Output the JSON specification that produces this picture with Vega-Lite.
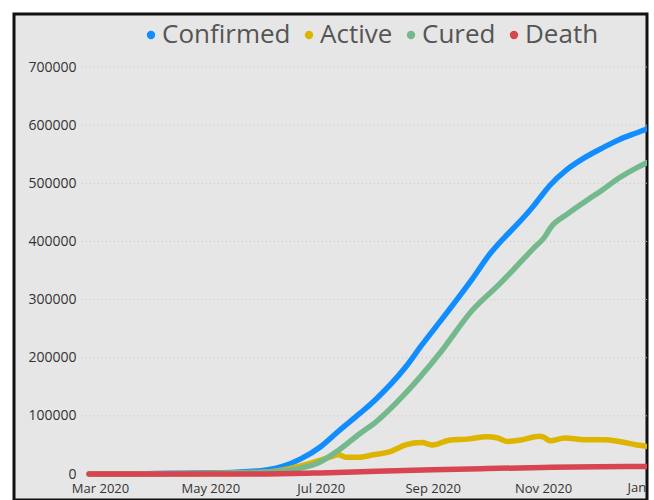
{
  "$schema": "https://vega.github.io/schema/vega-lite/v6.json",
  "width": 633,
  "height": 486,
  "autosize": {"type": "none"},
  "padding": {"left": 14, "top": 14, "right": 7, "bottom": 0},
  "background": "white",
  "config": {
    "view": {"fill": "#e6e6e6", "stroke": "#111111", "strokeWidth": 3},
    "font": "Open Sans"
  },
  "layer": [
    {
      "data": {"values": [{"g": 100000}, {"g": 200000}, {"g": 300000}, {"g": 400000}, {"g": 500000}, {"g": 600000}, {"g": 700000}]},
      "mark": {"type": "rule", "stroke": "#c4c4c4", "strokeDash": [1, 3], "strokeWidth": 1, "clip": true},
      "encoding": {
        "y": {
          "field": "g", "type": "quantitative",
          "scale": {"domain": [-44717, 791155], "nice": false, "zero": false},
          "axis": {
            "orient": "left", "offset": -64, "labelPadding": 2, "ticks": false, "domain": false, "grid": false,
            "values": [0, 100000, 200000, 300000, 400000, 500000, 600000, 700000],
            "format": "d", "labelFontSize": 14, "labelColor": "#333333", "labelFont": "Open Sans", "title": null
          }
        },
        "x": {"datum": {"year": 2020, "month": 2, "date": 20, "utc": true}, "type": "temporal"},
        "x2": {"datum": {"year": 2021, "month": 1, "date": 20, "utc": true}}
      }
    },
    {
      "data": {"values": [
        {"date": "2020-02-24", "series": "Confirmed", "value": 1},
        {"date": "2020-03-15", "series": "Confirmed", "value": 120},
        {"date": "2020-04-01", "series": "Confirmed", "value": 700},
        {"date": "2020-04-15", "series": "Confirmed", "value": 1400},
        {"date": "2020-05-01", "series": "Confirmed", "value": 2100},
        {"date": "2020-05-15", "series": "Confirmed", "value": 3200},
        {"date": "2020-06-01", "series": "Confirmed", "value": 7000},
        {"date": "2020-06-10", "series": "Confirmed", "value": 13000},
        {"date": "2020-06-20", "series": "Confirmed", "value": 26000},
        {"date": "2020-07-01", "series": "Confirmed", "value": 47000},
        {"date": "2020-07-11", "series": "Confirmed", "value": 74000},
        {"date": "2020-07-23", "series": "Confirmed", "value": 105000},
        {"date": "2020-07-31", "series": "Confirmed", "value": 127000},
        {"date": "2020-08-17", "series": "Confirmed", "value": 184000},
        {"date": "2020-08-26", "series": "Confirmed", "value": 222000},
        {"date": "2020-09-05", "series": "Confirmed", "value": 262000},
        {"date": "2020-09-23", "series": "Confirmed", "value": 336000},
        {"date": "2020-10-03", "series": "Confirmed", "value": 380000},
        {"date": "2020-10-08", "series": "Confirmed", "value": 398000},
        {"date": "2020-10-12", "series": "Confirmed", "value": 411000},
        {"date": "2020-10-17", "series": "Confirmed", "value": 427000},
        {"date": "2020-10-27", "series": "Confirmed", "value": 462000},
        {"date": "2020-10-30", "series": "Confirmed", "value": 474000},
        {"date": "2020-11-05", "series": "Confirmed", "value": 497000},
        {"date": "2020-11-14", "series": "Confirmed", "value": 523000},
        {"date": "2020-11-24", "series": "Confirmed", "value": 544000},
        {"date": "2020-12-04", "series": "Confirmed", "value": 561000},
        {"date": "2020-12-13", "series": "Confirmed", "value": 575000},
        {"date": "2020-12-23", "series": "Confirmed", "value": 587000},
        {"date": "2020-12-29", "series": "Confirmed", "value": 594000},
        {"date": "2021-01-02", "series": "Confirmed", "value": 598000},
        {"date": "2020-02-24", "series": "Active", "value": 1},
        {"date": "2020-03-15", "series": "Active", "value": 90},
        {"date": "2020-04-01", "series": "Active", "value": 500},
        {"date": "2020-04-15", "series": "Active", "value": 600},
        {"date": "2020-05-01", "series": "Active", "value": 700},
        {"date": "2020-05-15", "series": "Active", "value": 1000},
        {"date": "2020-06-01", "series": "Active", "value": 3000},
        {"date": "2020-06-10", "series": "Active", "value": 7000},
        {"date": "2020-06-20", "series": "Active", "value": 14000},
        {"date": "2020-07-01", "series": "Active", "value": 24000},
        {"date": "2020-07-06", "series": "Active", "value": 29000},
        {"date": "2020-07-11", "series": "Active", "value": 33000},
        {"date": "2020-07-15", "series": "Active", "value": 29000},
        {"date": "2020-07-23", "series": "Active", "value": 29000},
        {"date": "2020-07-30", "series": "Active", "value": 33000},
        {"date": "2020-08-08", "series": "Active", "value": 38000},
        {"date": "2020-08-17", "series": "Active", "value": 50000},
        {"date": "2020-08-26", "series": "Active", "value": 54000},
        {"date": "2020-09-01", "series": "Active", "value": 50000},
        {"date": "2020-09-10", "series": "Active", "value": 58000},
        {"date": "2020-09-20", "series": "Active", "value": 60000},
        {"date": "2020-10-01", "series": "Active", "value": 64000},
        {"date": "2020-10-07", "series": "Active", "value": 62000},
        {"date": "2020-10-12", "series": "Active", "value": 56000},
        {"date": "2020-10-19", "series": "Active", "value": 58000},
        {"date": "2020-10-30", "series": "Active", "value": 65000},
        {"date": "2020-11-01", "series": "Active", "value": 64000},
        {"date": "2020-11-05", "series": "Active", "value": 57000},
        {"date": "2020-11-13", "series": "Active", "value": 62000},
        {"date": "2020-11-24", "series": "Active", "value": 59000},
        {"date": "2020-12-05", "series": "Active", "value": 59000},
        {"date": "2020-12-13", "series": "Active", "value": 56000},
        {"date": "2020-12-23", "series": "Active", "value": 50000},
        {"date": "2020-12-29", "series": "Active", "value": 47000},
        {"date": "2021-01-02", "series": "Active", "value": 44000},
        {"date": "2020-02-24", "series": "Cured", "value": 0},
        {"date": "2020-03-15", "series": "Cured", "value": 25},
        {"date": "2020-04-01", "series": "Cured", "value": 170},
        {"date": "2020-04-15", "series": "Cured", "value": 750},
        {"date": "2020-05-01", "series": "Cured", "value": 1400},
        {"date": "2020-05-15", "series": "Cured", "value": 2100},
        {"date": "2020-06-01", "series": "Cured", "value": 3600},
        {"date": "2020-06-10", "series": "Cured", "value": 5500},
        {"date": "2020-06-20", "series": "Cured", "value": 10000},
        {"date": "2020-07-01", "series": "Cured", "value": 21000},
        {"date": "2020-07-11", "series": "Cured", "value": 41000},
        {"date": "2020-07-23", "series": "Cured", "value": 70000},
        {"date": "2020-07-31", "series": "Cured", "value": 88000},
        {"date": "2020-08-17", "series": "Cured", "value": 139000},
        {"date": "2020-09-05", "series": "Cured", "value": 208000},
        {"date": "2020-09-23", "series": "Cured", "value": 282000},
        {"date": "2020-10-08", "series": "Cured", "value": 327000},
        {"date": "2020-10-17", "series": "Cured", "value": 356000},
        {"date": "2020-10-27", "series": "Cured", "value": 389000},
        {"date": "2020-11-02", "series": "Cured", "value": 408000},
        {"date": "2020-11-05", "series": "Cured", "value": 423000},
        {"date": "2020-11-14", "series": "Cured", "value": 446000},
        {"date": "2020-11-24", "series": "Cured", "value": 468000},
        {"date": "2020-12-04", "series": "Cured", "value": 489000},
        {"date": "2020-12-13", "series": "Cured", "value": 509000},
        {"date": "2020-12-23", "series": "Cured", "value": 527000},
        {"date": "2020-12-29", "series": "Cured", "value": 536000},
        {"date": "2021-01-02", "series": "Cured", "value": 541000},
        {"date": "2020-02-24", "series": "Death", "value": 0},
        {"date": "2020-04-01", "series": "Death", "value": 50},
        {"date": "2020-05-01", "series": "Death", "value": 100},
        {"date": "2020-06-01", "series": "Death", "value": 215},
        {"date": "2020-07-01", "series": "Death", "value": 1900},
        {"date": "2020-08-01", "series": "Death", "value": 4800},
        {"date": "2020-09-01", "series": "Death", "value": 7300},
        {"date": "2020-10-01", "series": "Death", "value": 9400},
        {"date": "2020-11-01", "series": "Death", "value": 11200},
        {"date": "2020-12-01", "series": "Death", "value": 12400},
        {"date": "2020-12-29", "series": "Death", "value": 13000},
        {"date": "2021-01-02", "series": "Death", "value": 13100}
      ]},
      "mark": {"type": "line", "strokeWidth": 5.5, "interpolate": "monotone", "clip": true, "strokeCap": "round"},
      "encoding": {
        "x": {
          "field": "date", "type": "temporal",
          "scale": {"type": "utc", "domain": [{"year": 2020, "month": 1, "date": 13, "hours": 10, "utc": true}, {"year": 2020, "month": 12, "date": 28, "hours": 12, "utc": true}]},
          "axis": {
            "orient": "bottom", "offset": -12, "labelPadding": 0, "ticks": false, "domain": false, "grid": false,
            "values": [
              {"year": 2020, "month": 3, "date": 1, "utc": true},
              {"year": 2020, "month": 5, "date": 1, "utc": true},
              {"year": 2020, "month": 7, "date": 1, "utc": true},
              {"year": 2020, "month": 9, "date": 1, "utc": true},
              {"year": 2020, "month": 11, "date": 1, "utc": true}
            ],
            "format": "%b %Y", "labelFontSize": 13, "labelBaseline": "middle", "labelColor": "#333333",
            "labelFont": "Open Sans", "title": null, "labelFlush": false, "labelOverlap": false
          }
        },
        "y": {"field": "value", "type": "quantitative"},
        "color": {
          "field": "series", "type": "nominal",
          "scale": {"domain": ["Confirmed", "Active", "Cured", "Death"], "range": ["#118DFF", "#DDB400", "#73B98B", "#D64550"]},
          "legend": {
            "orient": "none", "legendX": 124, "legendY": 8, "direction": "horizontal", "title": null,
            "symbolType": "circle", "symbolSize": 70, "symbolStrokeWidth": 0,
            "labelFontSize": 26, "labelColor": "#555555", "labelFont": "Open Sans",
            "labelOffset": -2, "columnPadding": 5, "labelLimit": 400,
            "encode": {"symbols": {"update": {"fill": {"scale": "color", "field": "value"}, "opacity": {"value": 1}}}}
          }
        }
      }
    },
    {
      "data": {"values": [{"tick": "2021-01-01", "label": "Jan 2021"}]},
      "mark": {"type": "text", "fontSize": 13, "font": "Open Sans", "color": "#333333", "baseline": "middle", "align": "center", "clip": true},
      "encoding": {
        "x": {"field": "tick", "type": "temporal"},
        "y": {"datum": -24000, "type": "quantitative"},
        "text": {"field": "label"}
      }
    }
  ]
}
